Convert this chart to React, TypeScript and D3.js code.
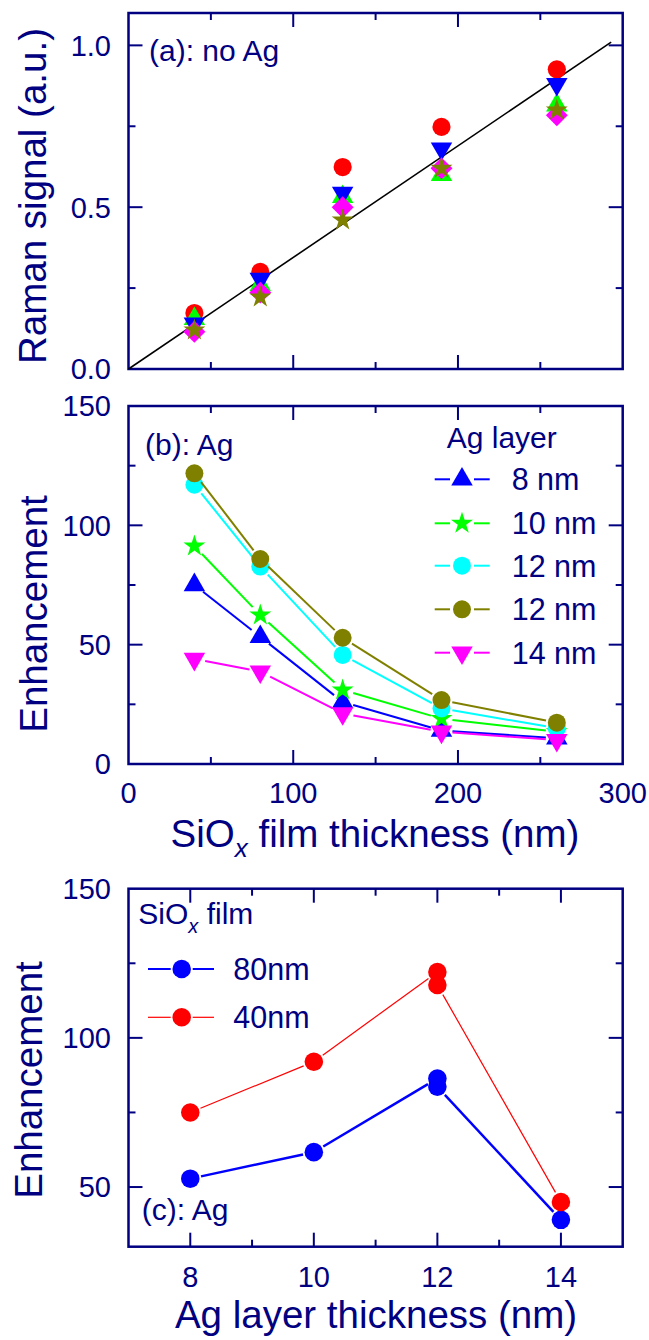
import { useEffect, useRef } from "react";
import * as d3 from "d3";

// SiOx film thickness (nm), shared by panels (a) and (b)
const thicknessNm = [40, 80, 130, 190, 260];

// panel (a): Raman signal, no Ag
const ramanRed = [0.173, 0.3, 0.624, 0.748, 0.926];
const ramanGreen = [0.155, 0.26, 0.532, 0.6, 0.815];
const ramanBlue = [0.14, 0.278, 0.544, 0.681, 0.88];
const ramanMagenta = [0.115, 0.236, 0.5, 0.62, 0.784];
const ramanOlive = [0.12, 0.222, 0.46, 0.62, 0.8];
const fitX = [0, 293];
const fitY = [0, 1.01];

// panel (b): enhancement per Ag layer
const agLabels = ["8 nm", "10 nm", "12 nm", "12 nm", "14 nm"];
const enh8 = [75, 53.3, 26, 14, 10.8];
const enh10 = [91.3, 62.4, 31, 19, 13.5];
const enh12a = [117, 82.7, 45.7, 23.3, 15];
const enh12b = [121.8, 85.9, 52.9, 26.8, 17.3];
const enh14 = [44, 38.7, 21.2, 13.5, 10];

// panel (c): enhancement vs Ag layer thickness
const agThickness = [8, 10, 12, 12, 14];
const sioLabels = ["80nm", "40nm"];
const enhSio80 = [52.8, 61.7, 86.4, 83.6, 39];
const enhSio40 = [75, 92, 122.1, 117.7, 45];

const NAVY = "#000080";
const FONT = "'Liberation Sans', Arial, sans-serif";

const shapes = {
    circle: d3.symbolCircle,
    triangle: d3.symbolTriangle,
    star: d3.symbolStar,
    square: d3.symbolSquare,
};

const App = () => {
    const svgRef = useRef(null);

    useEffect(() => {
        const svg = d3.select(svgRef.current);
        svg.selectAll("*").remove();

        const left = 128.5;
        const right = 622.7;

        const drawSymbol = (g, s, cx, cy) => {
            g.append("path")
                .attr("d", d3.symbol(shapes[s.shape], s.size)())
                .attr("transform", `translate(${cx},${cy}) rotate(${s.rot || 0})`)
                .attr("fill", s.color);
        };

        // frame with inward ticks on all four sides
        const frame = (x, y, xTicks, yTicks) => {
            const [x0, x1] = x.range();
            const [y0, y1] = y.range(); // y0 bottom, y1 top
            const g = svg.append("g").attr("stroke", NAVY).attr("fill", "none");
            xTicks.forEach(([v, major]) => {
                const len = major ? 14 : 7;
                g.append("line").attr("x1", x(v)).attr("x2", x(v)).attr("y1", y0).attr("y2", y0 - len).attr("stroke-width", 2);
                g.append("line").attr("x1", x(v)).attr("x2", x(v)).attr("y1", y1).attr("y2", y1 + len).attr("stroke-width", 2);
            });
            yTicks.forEach(([v, major]) => {
                const len = major ? 14 : 7;
                g.append("line").attr("y1", y(v)).attr("y2", y(v)).attr("x1", x0).attr("x2", x0 + len).attr("stroke-width", 2);
                g.append("line").attr("y1", y(v)).attr("y2", y(v)).attr("x1", x1).attr("x2", x1 - len).attr("stroke-width", 2);
            });
            g.append("rect")
                .attr("x", x0).attr("y", y1)
                .attr("width", x1 - x0).attr("height", y0 - y1)
                .attr("stroke-width", 2.5);
        };

        const text = (x, y, str, size, anchor = "start") =>
            svg.append("text")
                .attr("x", x).attr("y", y)
                .attr("font-family", FONT).attr("font-size", size)
                .attr("fill", NAVY).attr("text-anchor", anchor)
                .text(str);

        const yLabels = (y, vals, fmt) => {
            vals.forEach((v) => text(111, y(v), fmt(v), 29, "end").attr("dy", "0.36em"));
        };

        const yTitle = (cx, cy, str) =>
            svg.append("text")
                .attr("transform", `translate(${cx},${cy}) rotate(-90)`)
                .attr("font-family", FONT).attr("font-size", 38.5)
                .attr("fill", NAVY).attr("text-anchor", "middle")
                .text(str);

        // segments between points, cut short around the markers
        const gappedLine = (g, pts, color, width, gap) => {
            for (let i = 1; i < pts.length; i++) {
                const [ax, ay] = pts[i - 1];
                const [bx, by] = pts[i];
                const len = Math.hypot(bx - ax, by - ay);
                if (len <= 2 * gap) continue;
                const ux = (bx - ax) / len;
                const uy = (by - ay) / len;
                g.append("line")
                    .attr("x1", ax + ux * gap).attr("y1", ay + uy * gap)
                    .attr("x2", bx - ux * gap).attr("y2", by - uy * gap)
                    .attr("stroke", color).attr("stroke-width", width);
            }
        };

        const tickSet = (majors, minors) =>
            [...majors.map((v) => [v, true]), ...minors.map((v) => [v, false])];

        // ---------- panel (a) ----------
        const xA = d3.scaleLinear().domain([0, 300]).range([left, right]);
        const yA = d3.scaleLinear().domain([0, 1.1]).range([369, 13]);
        frame(xA, yA, tickSet([100, 200], [50, 150, 250]), tickSet([0.5, 1.0], [0.25, 0.75]));

        svg.append("line")
            .attr("x1", xA(fitX[0])).attr("y1", yA(fitY[0]))
            .attr("x2", xA(fitX[1])).attr("y2", yA(fitY[1]))
            .attr("stroke", "#000").attr("stroke-width", 1.6);

        const seriesA = [
            { values: ramanRed, color: "#ff0000", shape: "circle", size: 260 },
            { values: ramanGreen, color: "#00ff00", shape: "triangle", size: 200 },
            { values: ramanBlue, color: "#0000ff", shape: "triangle", size: 200, rot: 180 },
            { values: ramanMagenta, color: "#ff00ff", shape: "square", size: 240, rot: 45 },
            { values: ramanOlive, color: "#808000", shape: "star", size: 150 },
        ];
        const gA = svg.append("g");
        seriesA.forEach((s) => {
            s.values.forEach((v, i) => drawSymbol(gA, s, xA(thicknessNm[i]), yA(v)));
        });

        yLabels(yA, [0, 0.5, 1.0], d3.format(".1f"));
        text(149, 61, "(a): no Ag", 30);
        yTitle(46, 196, "Raman signal (a.u.)");

        // ---------- panel (b) ----------
        const xB = xA.copy();
        const yB = d3.scaleLinear().domain([0, 150]).range([764, 406]);
        frame(xB, yB, tickSet([100, 200], [50, 150, 250]), tickSet([50, 100], [25, 75, 125]));

        const seriesB = [
            { values: enh8, color: "#0000ff", shape: "triangle", size: 200 },
            { values: enh10, color: "#00ff00", shape: "star", size: 150 },
            { values: enh12a, color: "#00ffff", shape: "circle", size: 254 },
            { values: enh12b, color: "#808000", shape: "circle", size: 254 },
            { values: enh14, color: "#ff00ff", shape: "triangle", size: 200, rot: 180 },
        ];
        const gB = svg.append("g");
        seriesB.forEach((s) => {
            const pts = s.values.map((v, i) => [xB(thicknessNm[i]), yB(v)]);
            gappedLine(gB, pts, s.color, 2, 11);
            pts.forEach(([cx, cy]) => drawSymbol(gB, s, cx, cy));
        });

        yLabels(yB, [0, 50, 100, 150], d3.format("d"));
        [0, 100, 200, 300].forEach((v) => text(xB(v), 803, String(v), 29, "middle"));
        text(145, 455, "(b): Ag", 30);
        yTitle(46.5, 614, "Enhancement");

        const titleB = svg.append("text")
            .attr("x", 375).attr("y", 847)
            .attr("font-family", FONT).attr("font-size", 38.5)
            .attr("fill", NAVY).attr("text-anchor", "middle");
        titleB.append("tspan").text("SiO");
        titleB.append("tspan").attr("font-size", 26).attr("font-style", "italic").attr("dy", 10).text("x");
        titleB.append("tspan").attr("dy", -10).text(" film thickness (nm)");

        // legend (b)
        text(446.7, 448, "Ag layer", 30);
        const rowsB = [479.3, 523.3, 565.7, 609.3, 652.7];
        seriesB.forEach((s, i) => {
            const cy = rowsB[i];
            gappedLine(gB, [[422.7, cy], [462, cy], [501.7, cy]], s.color, 2, 12);
            drawSymbol(gB, s, 462, cy);
            text(511.7, cy, agLabels[i], 30.5).attr("dy", "0.36em");
        });

        // ---------- panel (c) ----------
        const xC = d3.scaleLinear().domain([7, 15]).range([left, right]);
        const yC = d3.scaleLinear().domain([30, 150]).range([1246.7, 888.7]);
        frame(xC, yC, tickSet([8, 10, 12, 14], [9, 11, 13]), tickSet([50, 100], [75, 125]));

        const seriesC = [
            { values: enhSio80, color: "#0000ff", shape: "circle", size: 270, width: 2.5 },
            { values: enhSio40, color: "#ff0000", shape: "circle", size: 270, width: 1.2 },
        ];
        const gC = svg.append("g");
        seriesC.forEach((s) => {
            const pts = s.values.map((v, i) => [xC(agThickness[i]), yC(v)]);
            gappedLine(gC, pts, s.color, s.width, 11);
        });
        seriesC.forEach((s) => {
            s.values.forEach((v, i) => drawSymbol(gC, s, xC(agThickness[i]), yC(v)));
        });

        yLabels(yC, [50, 100, 150], d3.format("d"));
        [8, 10, 12, 14].forEach((v) => text(xC(v), 1287, String(v), 29, "middle"));
        text(141.7, 1220, "(c): Ag", 30);
        yTitle(41.5, 1080, "Enhancement");
        text(376, 1328, "Ag layer thickness (nm)", 38.5, "middle");

        // legend (c)
        const legC = svg.append("text")
            .attr("x", 138.3).attr("y", 924)
            .attr("font-family", FONT).attr("font-size", 30).attr("fill", NAVY);
        legC.append("tspan").text("SiO");
        legC.append("tspan").attr("font-size", 20).attr("font-style", "italic").attr("dy", 9).text("x");
        legC.append("tspan").attr("dy", -9).text(" film");

        const rowsC = [969, 1017.3];
        seriesC.forEach((s, i) => {
            const cy = rowsC[i];
            gappedLine(gC, [[137, cy], [181.7, cy], [225, cy]], s.color, s.width === 2.5 ? 2 : 1.2, 11);
            drawSymbol(gC, s, 181.7, cy);
            text(233.3, cy, sioLabels[i], 30.5).attr("dy", "0.36em");
        });
    }, []);

    return (
        <svg
            ref={svgRef}
            width={649}
            height={1340}
            style={{ position: "absolute", left: 0, top: 0, background: "#fff" }}
        />
    );
};

export default App;
